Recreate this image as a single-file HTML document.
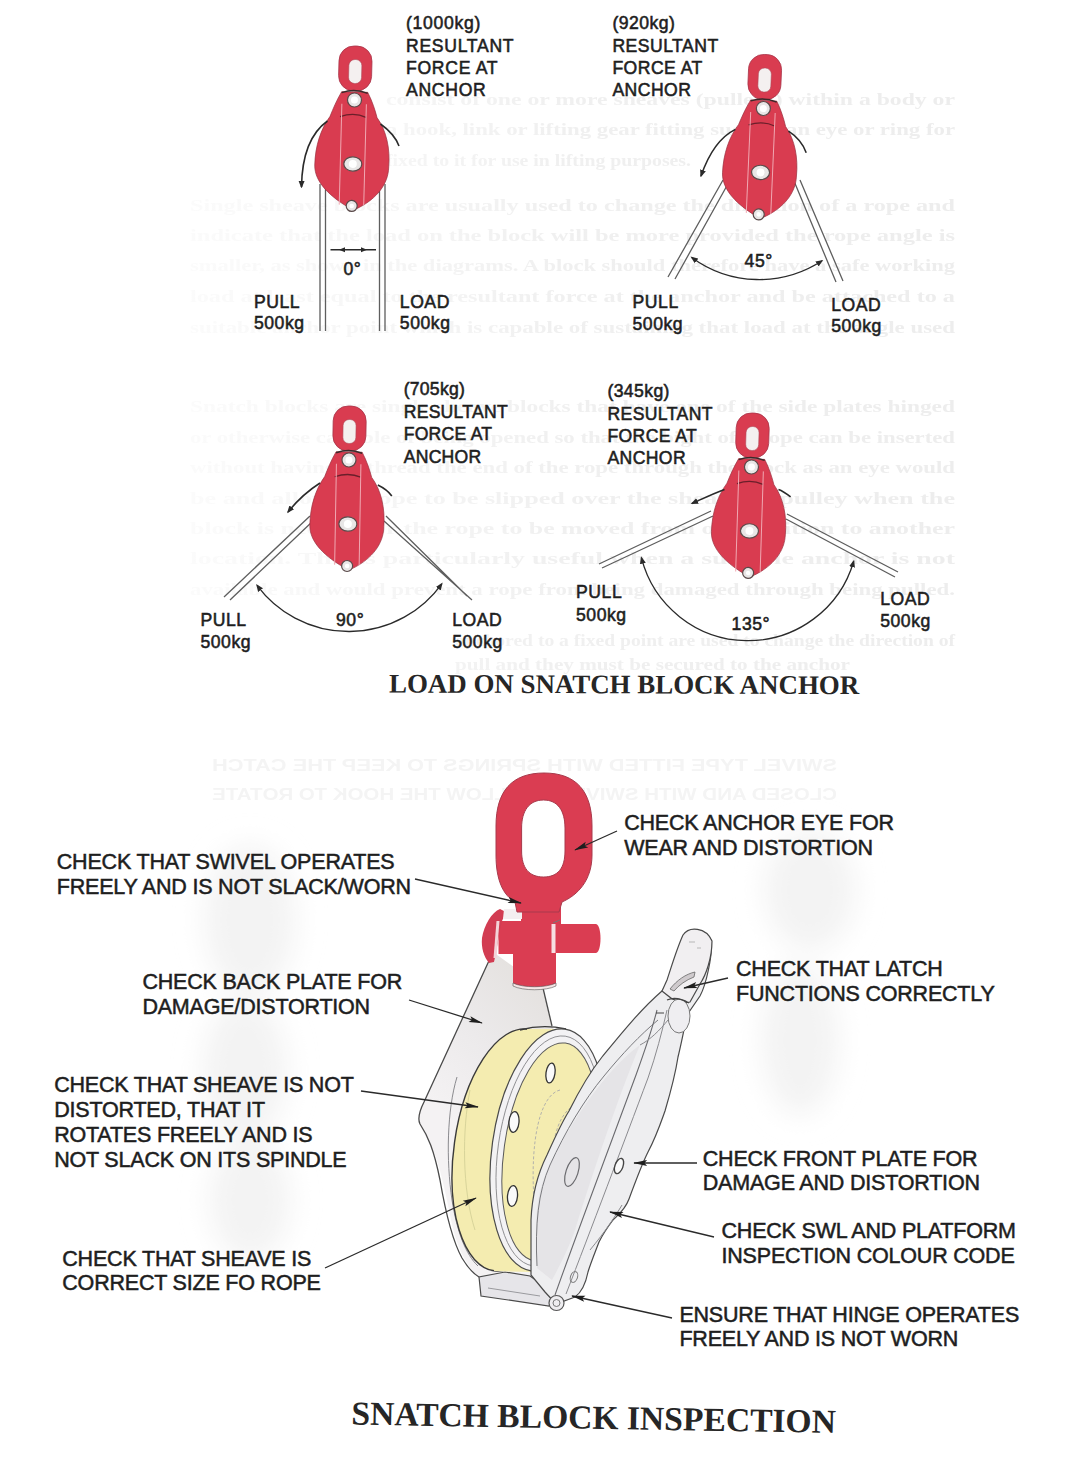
<!DOCTYPE html>
<html><head><meta charset="utf-8">
<style>
html,body{margin:0;padding:0;background:#fff;}
body{width:1074px;height:1464px;overflow:hidden;position:relative;}
svg{position:absolute;left:0;top:0;}
.l{font-family:"Liberation Sans",sans-serif;font-size:17.6px;fill:#1e1e1e;stroke:#1e1e1e;stroke-width:0.55px;letter-spacing:0.55px;}
.b{font-family:"Liberation Sans",sans-serif;font-size:21.5px;fill:#1e1e1e;stroke:#1e1e1e;stroke-width:0.5px;letter-spacing:-0.2px;}
.t{font-family:"Liberation Serif",serif;font-weight:bold;fill:#262626;}
</style></head>
<body>
<svg width="1074" height="1464" viewBox="0 0 1074 1464">
<defs>
  <g id="blk">
    <!-- eye -->
    <rect x="-16.5" y="0" width="33" height="45" rx="15" fill="#d93c50" stroke="#a8354a" stroke-width="0.8"/>
    <rect x="-6.5" y="13.5" width="13" height="24" rx="6" fill="#f4f0f0" stroke="#b04858" stroke-width="0.6"/>
    <!-- body -->
    <path d="M -13 46 L 13 46 C 18 55, 21 64, 23 71 C 33 84, 37 102, 36 120 C 36 138, 24 152, 8 161 Q 2 165, -4 161 C -20 152, -38 138, -38 120 C -38 101, -33 84, -24 71 C -21 63, -18 55, -13 46 Z" fill="#d93c50" stroke="#9a3040" stroke-width="0.7"/>
    <path d="M -14 71 Q 0 66 12 71" fill="none" stroke="#6a1f2a" stroke-width="1.3"/>
    <path d="M -13 47 Q 0 42 13 47" fill="none" stroke="#3a2a2a" stroke-width="1.4"/>
    <path d="M -12.5 58 L -12.5 159 M 12 58 L 12 159" stroke="#f0a8b2" stroke-width="1"/>
    <circle cx="0" cy="54" r="7" fill="#e8e6e6" stroke="#5a4a4a" stroke-width="1.2"/>
    <circle cx="0" cy="54" r="3.5" fill="#fff"/>
    <ellipse cx="0" cy="118" rx="9" ry="7.2" fill="#e8e6e6" stroke="#5a4a4a" stroke-width="1.2"/>
    <circle cx="0" cy="118" r="4" fill="#fff"/>
    <circle cx="0" cy="160" r="5.5" fill="#e8e6e6" stroke="#5a4a4a" stroke-width="1.2"/>
    <circle cx="0" cy="160" r="2.3" fill="#fff"/>
  </g>
  <marker id="ah" viewBox="0 0 10 10" refX="8" refY="5" markerWidth="7.5" markerHeight="7.5" orient="auto-start-reverse" markerUnits="userSpaceOnUse">
    <path d="M0 1 L10 5 L0 9 Z" fill="#2a2a2a"/>
  </marker>
  <marker id="ptr" viewBox="0 0 16 8" refX="15" refY="4" markerWidth="16" markerHeight="7" orient="auto" markerUnits="userSpaceOnUse">
    <path d="M0 0.5 L16 4 L0 7.5 L3 4 Z" fill="#1e1e1e"/>
  </marker>
  <filter id="soft" x="-5%" y="-50%" width="110%" height="200%"><feGaussianBlur stdDeviation="0.7"/></filter>
  <linearGradient id="bg" gradientUnits="userSpaceOnUse" x1="190" y1="0" x2="955" y2="0">
    <stop offset="0" stop-color="#fbfbfb"/><stop offset="0.25" stop-color="#f6f6f6"/><stop offset="0.48" stop-color="#f0f0f0"/><stop offset="1" stop-color="#ededed"/>
  </linearGradient>
  <linearGradient id="bpg" gradientUnits="userSpaceOnUse" x1="430" y1="1100" x2="540" y2="990">
    <stop offset="0" stop-color="#f4f2f3"/><stop offset="0.5" stop-color="#eceaeb"/><stop offset="1" stop-color="#e5e2e0"/>
  </linearGradient>
  <filter id="ghost" x="-50%" y="-50%" width="200%" height="200%"><feGaussianBlur stdDeviation="14"/></filter>
</defs>

<g id="bleed" filter="url(#soft)" font-family="Liberation Serif, serif" font-weight="bold" font-size="16.5" fill="url(#bg)" transform="translate(0 2)">
<text x="386" y="103" textLength="569" lengthAdjust="spacingAndGlyphs">consist of one or more sheaves (pulleys) within a body or</text>
<text x="386" y="133" textLength="569" lengthAdjust="spacingAndGlyphs">a hook, link or lifting gear fitting such as an eye or ring for</text>
<text x="386" y="164" textLength="305" lengthAdjust="spacingAndGlyphs">fixed to it for use in lifting purposes.</text>
<text x="190" y="209" textLength="765" lengthAdjust="spacingAndGlyphs">Single sheave blocks are usually used to change the direction of a rope and</text>
<text x="190" y="239" textLength="765" lengthAdjust="spacingAndGlyphs">indicate that the load on the block will be more provided the rope angle is</text>
<text x="190" y="269" textLength="765" lengthAdjust="spacingAndGlyphs">smaller, as shown in the diagrams. A block should therefore have a safe working</text>
<text x="190" y="300" textLength="765" lengthAdjust="spacingAndGlyphs">load at least equal to the resultant force at the anchor and be attached to a</text>
<text x="190" y="331" textLength="765" lengthAdjust="spacingAndGlyphs">suitable anchor point which is capable of sustaining that load at the angle used</text>
<text x="190" y="410" textLength="765" lengthAdjust="spacingAndGlyphs">Snatch blocks are single sheave blocks that have one of the side plates hinged</text>
<text x="190" y="441" textLength="765" lengthAdjust="spacingAndGlyphs">or otherwise capable of being opened so that the bight of a rope can be inserted</text>
<text x="190" y="471" textLength="765" lengthAdjust="spacingAndGlyphs">without having to thread the end of the rope through the block as an eye would</text>
<text x="190" y="502" textLength="765" lengthAdjust="spacingAndGlyphs">be and allows a rope to be slipped over the sheave or pulley when the</text>
<text x="190" y="532" textLength="765" lengthAdjust="spacingAndGlyphs">block is needed for the rope to be moved from one position to another</text>
<text x="190" y="562" textLength="765" lengthAdjust="spacingAndGlyphs">location. This is particularly useful when a suitable anchor is not</text>
<text x="190" y="593" textLength="765" lengthAdjust="spacingAndGlyphs">available and would prevent a rope from being damaged through being pulled.</text>
<text x="455" y="644" textLength="500" lengthAdjust="spacingAndGlyphs">anchored to a fixed point are used to change the direction of</text>
<text x="455" y="668" textLength="395" lengthAdjust="spacingAndGlyphs">pull and they must be secured to the anchor</text>
</g>
<g filter="url(#soft)" font-family="Liberation Sans, sans-serif" font-weight="bold" font-size="17" fill="#f4f4f4" transform="translate(1050 0) scale(-1 1)">
<text x="213" y="771" textLength="625" lengthAdjust="spacingAndGlyphs">SWIVEL TYPE FITTED WITH SPRINGS TO KEEP THE CATCH</text>
<text x="213" y="800" textLength="625" lengthAdjust="spacingAndGlyphs">CLOSED AND WITH SWIVEL TO ALLOW THE HOOK TO ROTATE</text>
</g>
<g filter="url(#ghost)" fill="#f3f3f3">
  <ellipse cx="250" cy="920" rx="45" ry="75"/>
  <ellipse cx="245" cy="1070" rx="42" ry="70"/>
  <ellipse cx="250" cy="1200" rx="40" ry="60"/>
  <ellipse cx="810" cy="890" rx="45" ry="60"/>
  <ellipse cx="800" cy="1040" rx="38" ry="75"/>
</g>
<!-- ============ TOP SECTION ============ -->
<!-- Block 1 : 0 deg -->
<g fill="none" stroke="#5e5e5e" stroke-width="1.3">
  <path d="M 320 184 L 320 331 M 325.5 184 L 325.5 331"/>
  <path d="M 379.5 184 L 379.5 331 M 385 184 L 385 331"/>
</g>
<use href="#blk" transform="translate(354.5 99) rotate(1.5) translate(0 -53)"/>
<g fill="none" stroke="#2a2a2a" stroke-width="1.6">
  <path d="M 327.5 121 C 312 132, 302 152, 301.5 187" marker-end="url(#ah)"/>
  <path d="M 380.5 124 C 389 130, 396 138, 399 146"/>
  <path d="M 330.5 249.7 L 376 249.7" stroke-width="1.6"/>
  <path d="M 339 249.7 L 345 247.2 L 345 252.2 Z M 367 249.7 L 361 247.2 L 361 252.2 Z" fill="#2a2a2a" stroke="none"/>
</g>
<text class="l" x="406" style="letter-spacing:0.7px" y="29.3">(1000kg)</text>
<text class="l" x="406" style="letter-spacing:0.7px" y="51.5">RESULTANT</text>
<text class="l" x="406" style="letter-spacing:0.7px" y="73.7">FORCE AT</text>
<text class="l" x="406" style="letter-spacing:0.7px" y="95.8">ANCHOR</text>
<text class="l" x="343.5" y="274.7">0°</text>
<text class="l" x="253.9" y="307.5">PULL</text>
<text class="l" x="253.9" y="329.4">500kg</text>
<text class="l" x="399.8" y="307.5">LOAD</text>
<text class="l" x="399.8" y="329.4">500kg</text>

<!-- Block 2 : 45 deg -->
<g fill="none" stroke="#5e5e5e" stroke-width="1.3">
  <path d="M 723 180 L 668 277 M 729 182 L 675 279"/>
  <path d="M 794 181 L 836 282 M 800 180 L 843 281"/>
</g>
<use href="#blk" transform="translate(763.4 107.5) rotate(2.5) translate(0 -53)"/>
<g fill="none" stroke="#2a2a2a" stroke-width="1.6">
  <path d="M 735.4 129.4 C 722 136, 710 150, 701 176" marker-end="url(#ah)"/>
  <path d="M 788.5 131.2 C 796 136, 803 144, 806.2 152.7"/>
  <path d="M 691.7 257.4 A 114.2 114.2 0 0 0 822 260.8" marker-start="url(#ah)" marker-end="url(#ah)" stroke-width="1.3"/>
</g>
<text class="l" x="612.4" style="letter-spacing:0.47px" y="29.3">(920kg)</text>
<text class="l" x="612.4" style="letter-spacing:0.47px" y="51.5">RESULTANT</text>
<text class="l" x="612.4" style="letter-spacing:0.47px" y="74">FORCE AT</text>
<text class="l" x="612.4" style="letter-spacing:0.47px" y="96.3">ANCHOR</text>
<text class="l" x="744.6" y="267">45°</text>
<text class="l" x="632.5" y="307.7">PULL</text>
<text class="l" x="632.5" y="329.5">500kg</text>
<text class="l" x="831.2" y="310.8">LOAD</text>
<text class="l" x="831.2" y="332.2">500kg</text>

<!-- Block 3 : 90 deg -->
<g fill="none" stroke="#5e5e5e" stroke-width="1.3">
  <path d="M 310 516 L 224 597 M 313 521 L 230 600"/>
  <path d="M 386 516 L 467 596 M 384 521 L 472 600"/>
</g>
<use href="#blk" transform="translate(349 459) rotate(1.0) translate(0 -53)"/>
<g fill="none" stroke="#2a2a2a" stroke-width="1.6">
  <path d="M 320 483 C 306 492, 296 502, 288 512" marker-end="url(#ah)"/>
  <path d="M 377.8 485 C 384 488, 389 492, 391.8 496"/>
  <path d="M 257 585.3 A 114.4 114.4 0 0 0 441.8 583.8" marker-start="url(#ah)" marker-end="url(#ah)" stroke-width="1.3"/>
</g>
<text class="l" x="403.7" style="letter-spacing:0.25px" y="395.4">(705kg)</text>
<text class="l" x="403.7" style="letter-spacing:0.25px" y="417.6">RESULTANT</text>
<text class="l" x="403.7" style="letter-spacing:0.25px" y="439.8">FORCE AT</text>
<text class="l" x="403.7" style="letter-spacing:0.25px" y="462.6">ANCHOR</text>
<text class="l" x="336" y="626">90°</text>
<text class="l" x="200.4" y="625.5">PULL</text>
<text class="l" x="200.4" y="648">500kg</text>
<text class="l" x="452.2" y="626">LOAD</text>
<text class="l" x="452.2" y="648">500kg</text>

<!-- Block 4 : 135 deg -->
<g fill="none" stroke="#5e5e5e" stroke-width="1.3">
  <path d="M 711 511 L 599 564 M 713 516 L 602 568"/>
  <path d="M 787 514 L 898 572 M 786 519 L 895 577"/>
</g>
<use href="#blk" transform="translate(751.5 466) rotate(1.8) translate(0 -53)"/>
<g fill="none" stroke="#2a2a2a" stroke-width="1.6">
  <path d="M 724.5 489.4 C 712 494, 702 499, 692 503.5" marker-end="url(#ah)"/>
  <path d="M 778.5 489.4 C 783 491, 787 494, 790.6 496.8"/>
  <path d="M 641.4 557.7 A 110 110 0 0 0 853.7 561.2" marker-start="url(#ah)" marker-end="url(#ah)" stroke-width="1.3"/>
</g>
<text class="l" x="607.4" style="letter-spacing:0.4px" y="396.7">(345kg)</text>
<text class="l" x="607.4" style="letter-spacing:0.4px" y="419.5">RESULTANT</text>
<text class="l" x="607.4" style="letter-spacing:0.4px" y="441.7">FORCE AT</text>
<text class="l" x="607.4" style="letter-spacing:0.4px" y="463.6">ANCHOR</text>
<text class="l" x="731.6" y="630.2">135°</text>
<text class="l" x="576" y="598.4">PULL</text>
<text class="l" x="576" y="621.4">500kg</text>
<text class="l" x="880.2" y="604.8">LOAD</text>
<text class="l" x="880.2" y="626.7">500kg</text>

<text class="t" x="389" y="692.5" font-size="26.9" transform="rotate(0.2 389 692)">LOAD ON SNATCH BLOCK ANCHOR</text>

<!-- ============ BOTTOM SECTION ============ -->
<g id="illus">
  <!-- back plate -->
  <path d="M 493 952 L 543 988 L 552 1026 L 560 1040 L 560 1275 L 549 1305 L 481 1296 L 479 1277 C 462 1262, 455 1240, 450 1215 C 444 1185, 438 1160, 432 1148 C 426 1136, 418 1125, 419 1118 C 420 1112, 422 1106, 424 1102 Z" fill="url(#bpg)" stroke="none"/>
  <path d="M 493 952 L 424 1102 C 420 1110, 417 1118, 420 1124 C 428 1136, 434 1150, 440 1180 C 446 1215, 452 1240, 462 1258 C 468 1268, 474 1274, 479 1277" fill="none" stroke="#4a4a4a" stroke-width="1.3"/>
  <path d="M 543 988 L 552 1026" fill="none" stroke="#4a4a4a" stroke-width="1.3"/>
  <path d="M 457 1077 C 447 1110, 446 1160, 452 1200 C 457 1232, 466 1255, 478 1266" fill="none" stroke="#8a8a8e" stroke-width="1"/>
  <!-- hinge base -->
  <path d="M 479 1277 L 481 1296 L 549 1306 L 556 1294 L 530 1276 L 505 1272 Z" fill="#e6e5e9" stroke="#4a4a4a" stroke-width="1.2"/>
  <path d="M 488 1288 L 540 1296" stroke="#9a9a9e" stroke-width="1"/>
  <!-- sheave back (yellow) -->
  <ellipse cx="511" cy="1150" rx="57" ry="122" transform="rotate(8 511 1150)" fill="#f4ecb0" stroke="#3a3a3a" stroke-width="1.4"/>
  <path d="M 527 1029 L 566 1029 L 531 1272 L 494 1271 Z" fill="#f4ecb0"/>
  <path d="M 520 1030 C 535 1026, 552 1026, 566 1029" fill="none" stroke="#3a3a3a" stroke-width="1.3"/>
  <path d="M 470 1090 C 462 1130, 462 1190, 475 1230" fill="none" stroke="#d8d49a" stroke-width="1"/>
  <!-- sheave front rim -->
  <ellipse cx="548" cy="1150" rx="56" ry="122" transform="rotate(8 548 1150)" fill="#f3f2f4" stroke="#4a4a4a" stroke-width="1.2"/>
  <ellipse cx="549" cy="1151" rx="51" ry="116" transform="rotate(8 549 1151)" fill="none" stroke="#8a8a8e" stroke-width="0.9"/>
  <ellipse cx="550" cy="1152" rx="46" ry="110" transform="rotate(8 550 1152)" fill="#f4ecb0" stroke="#5a5a5a" stroke-width="1"/>
  <!-- hub dashed -->
  <path d="M 560 1090 C 540 1095, 530 1140, 534 1200" fill="none" stroke="#aaa" stroke-width="0.9" stroke-dasharray="3 2"/>
  <path d="M 575 1105 C 555 1115, 548 1150, 552 1210" fill="none" stroke="#aaa" stroke-width="0.9" stroke-dasharray="3 2"/>
  <!-- holes -->
  <ellipse cx="550.5" cy="1073" rx="4.5" ry="10" transform="rotate(8 550.5 1073)" fill="#fafafa" stroke="#333" stroke-width="1.3"/>
  <ellipse cx="514" cy="1122" rx="5" ry="10.5" transform="rotate(5 514 1122)" fill="#fafafa" stroke="#333" stroke-width="1.3"/>
  <ellipse cx="512.5" cy="1196" rx="5" ry="10.5" transform="rotate(5 512.5 1196)" fill="#fafafa" stroke="#333" stroke-width="1.3"/>
  <!-- front plate -->
  <path d="M 531 1275 L 531 1220 C 532 1195, 537 1175, 547 1155 C 556 1135, 562 1122, 569 1111 C 578 1093, 590 1072, 602 1057 C 620 1035, 640 1010, 662 991 L 673 975 C 678 960, 682 945, 687 936 C 692 928, 705 928, 711 940 C 713 955, 706 985, 700 996 L 687 1015 C 684 1030, 681 1045, 678 1057 C 676 1070, 673 1084, 665 1111 C 660 1125, 656 1137, 648 1152 C 644 1160, 636 1180, 629 1199 C 625 1210, 618 1215, 613 1220 C 607 1228, 602 1236, 599 1242 C 594 1255, 590 1265, 588 1272 C 586 1282, 582 1292, 575 1297 L 556 1304 L 545 1292 Z" fill="#eeeef0" stroke="#4a4a4a" stroke-width="1.2"/>
  <!-- inner face of front plate (slightly darker) -->
  <path d="M 537 1268 L 536 1222 C 537 1198, 542 1180, 551 1162 C 562 1140, 580 1110, 600 1085 C 615 1066, 630 1052, 640 1045 C 625 1080, 600 1150, 575 1230 C 568 1250, 560 1265, 552 1280 Z" fill="#e5e4e7" stroke="none"/>
  <!-- inner lines of front plate -->
  <path d="M 537 1266 C 535 1225, 538 1192, 550 1165 C 565 1132, 584 1100, 604 1076 C 622 1054, 640 1035, 658 1020" fill="none" stroke="#7a7a7e" stroke-width="1"/>
  <path d="M 555 1295 C 578 1230, 612 1140, 636 1075 C 645 1050, 652 1030, 657 1010" fill="none" stroke="#6a6a6e" stroke-width="1.1"/>
  <path d="M 566 1294 C 590 1232, 624 1142, 648 1078 C 656 1055, 662 1032, 667 1010" fill="none" stroke="#8a8a8e" stroke-width="1"/>
  <path d="M 640 1045 C 650 1040, 660 1030, 668 1020" fill="none" stroke="#8a8a8e" stroke-width="1"/>
  <path d="M 590 1250 C 605 1232, 616 1215, 622 1205" fill="none" stroke="#8a8a8e" stroke-width="1"/>
  <!-- latch -->
  <path d="M 683 935 C 689 926, 706 927, 712 941 C 712 958, 706 975, 700 984 L 690 1002 C 682 1004, 672 1000, 667 995 L 662 991 L 667 980 C 672 965, 677 948, 683 935 Z" fill="#f1eff1" stroke="#4a4a4a" stroke-width="1.2"/>
  <path d="M 670 989 C 677 980, 686 974, 695 972 L 694 977 C 686 980, 679 985, 674 991 Z" fill="#cfcacd" stroke="#666" stroke-width="0.8"/>
  <ellipse cx="679" cy="1016" rx="11" ry="17" fill="#efeef1" stroke="#777" stroke-width="1"/>
  <path d="M 667 1000 C 674 997, 682 999, 689 1003" fill="none" stroke="#444" stroke-width="1.3"/>
  <path d="M 689 942 L 695 942 M 697 948 L 701 948" stroke="#aaa" stroke-width="0.8"/>
  <path d="M 656 1013 L 664 1013" stroke="#444" stroke-width="1"/>
  <!-- holes front plate -->
  <ellipse cx="572" cy="1172" rx="6" ry="15" transform="rotate(18 572 1172)" fill="none" stroke="#6a6a6e" stroke-width="1.2"/>
  <ellipse cx="619" cy="1166" rx="4" ry="8" transform="rotate(20 619 1166)" fill="#fafafa" stroke="#444" stroke-width="1.4"/>
  <ellipse cx="574" cy="1277" rx="3.5" ry="5.5" transform="rotate(20 574 1277)" fill="none" stroke="#777" stroke-width="1"/>
  <!-- hinge pin -->
  <circle cx="556.5" cy="1303" r="7.5" fill="#eeedf0" stroke="#555" stroke-width="1.2"/>
  <circle cx="556.5" cy="1303" r="3.5" fill="none" stroke="#777" stroke-width="1"/>

  <!-- swivel (red) -->
  <path d="M 513 953 L 556 953 L 556 984 C 546 989, 523 989, 513 984 Z" fill="#da3d52"/>
  <path d="M 513 983 C 523 988, 546 988, 556 983 L 556 986 C 546 991, 523 991, 513 986 Z" fill="#f6e6e6" stroke="#555" stroke-width="0.6"/>
  <path d="M 521 907 L 561 907 L 561 925 L 521 925 Z" fill="#da3d52"/>
  <path d="M 498.5 921 L 553.5 921 L 553.5 954 L 498.5 954 Z" fill="#da3d52"/>
  <path d="M 500 909 C 492 912, 484 925, 482 938 C 481 948, 484 957, 489 963 L 494 962 C 497 950, 499 932, 502 921 L 506 912 Z" fill="#d23c52"/>
  <path d="M 504 909 L 522 909 L 522 919 L 503 919 Z" fill="#f4eef0"/>
  <path d="M 498 921 C 497 933, 496 945, 495 958" stroke="#f3d3d8" stroke-width="3" fill="none"/>
  <path d="M 551 924 L 596 924 C 602 925, 602 952, 596 953 L 551 953 Z" fill="#da3d52"/>
  <path d="M 553.5 924 L 553.5 953" stroke="#f6dfe2" stroke-width="4"/>
  <path d="M 553 923 L 560 920" stroke="#777" stroke-width="1"/>
  <!-- big eye -->
  <path fill-rule="evenodd" fill="#da3d52" stroke="#a83a4c" stroke-width="1" d="M 544 773 C 576 773, 592 791, 592 826 L 592 855 C 592 880, 578 895, 562 902 L 559 912 L 517 912 L 515 902 C 503 895, 496 880, 496 855 L 496 826 C 496 791, 512 773, 544 773 Z M 543.5 800 C 558 800, 565 811, 565 828 L 565 851 C 565 868, 558 877, 543.5 877 C 529 877, 521.6 868, 521.6 851 L 521.6 828 C 521.6 811, 529 800, 543.5 800 Z"/>
</g>

<g id="pointers" fill="none" stroke="#2a2a2a" stroke-width="1.3">
  <path d="M 415 879 L 521 903" marker-end="url(#ptr)"/>
  <path d="M 617 831 L 575 850" marker-end="url(#ptr)"/>
  <path d="M 409 1000 L 482 1023" marker-end="url(#ptr)"/>
  <path d="M 361 1091 L 478 1107" marker-end="url(#ptr)"/>
  <path d="M 325 1268 L 476 1198" marker-end="url(#ptr)"/>
  <path d="M 728 978 L 684 988" marker-end="url(#ptr)"/>
  <path d="M 697 1163 L 634 1163" marker-end="url(#ptr)"/>
  <path d="M 714 1237 L 610 1212" marker-end="url(#ptr)"/>
  <path d="M 672 1318 L 572 1296" marker-end="url(#ptr)"/>
</g>


<!-- labels -->
<text class="b" x="56.8" y="869">CHECK THAT SWIVEL OPERATES</text>
<text class="b" x="56.8" y="894">FREELY AND IS NOT SLACK/WORN</text>
<text class="b" x="142.4" y="989">CHECK BACK PLATE FOR</text>
<text class="b" x="142.4" y="1014">DAMAGE/DISTORTION</text>
<text class="b" x="54.2" y="1092">CHECK THAT SHEAVE IS NOT</text>
<text class="b" x="54.2" y="1117">DISTORTED, THAT IT</text>
<text class="b" x="54.2" y="1142">ROTATES FREELY AND IS</text>
<text class="b" x="54.2" y="1167">NOT SLACK ON ITS SPINDLE</text>
<text class="b" x="62.3" y="1266">CHECK THAT SHEAVE IS</text>
<text class="b" x="62.3" y="1290">CORRECT SIZE FO ROPE</text>
<text class="b" x="624.2" y="829.8">CHECK ANCHOR EYE FOR</text>
<text class="b" x="624.2" y="855">WEAR AND DISTORTION</text>
<text class="b" x="736" y="976">CHECK THAT LATCH</text>
<text class="b" x="736" y="1001">FUNCTIONS CORRECTLY</text>
<text class="b" x="702.8" y="1166">CHECK FRONT PLATE FOR</text>
<text class="b" x="702.8" y="1189.6">DAMAGE AND DISTORTION</text>
<text class="b" x="721.5" y="1238">CHECK SWL AND PLATFORM</text>
<text class="b" x="721.5" y="1263.3">INSPECTION COLOUR CODE</text>
<text class="b" x="679.4" y="1321.8">ENSURE THAT HINGE OPERATES</text>
<text class="b" x="679.4" y="1346">FREELY AND IS NOT WORN</text>

<text class="t" x="351.3" y="1424.5" font-size="33.6" transform="rotate(1.0 351 1425)">SNATCH BLOCK INSPECTION</text>
</svg>
</body></html>
